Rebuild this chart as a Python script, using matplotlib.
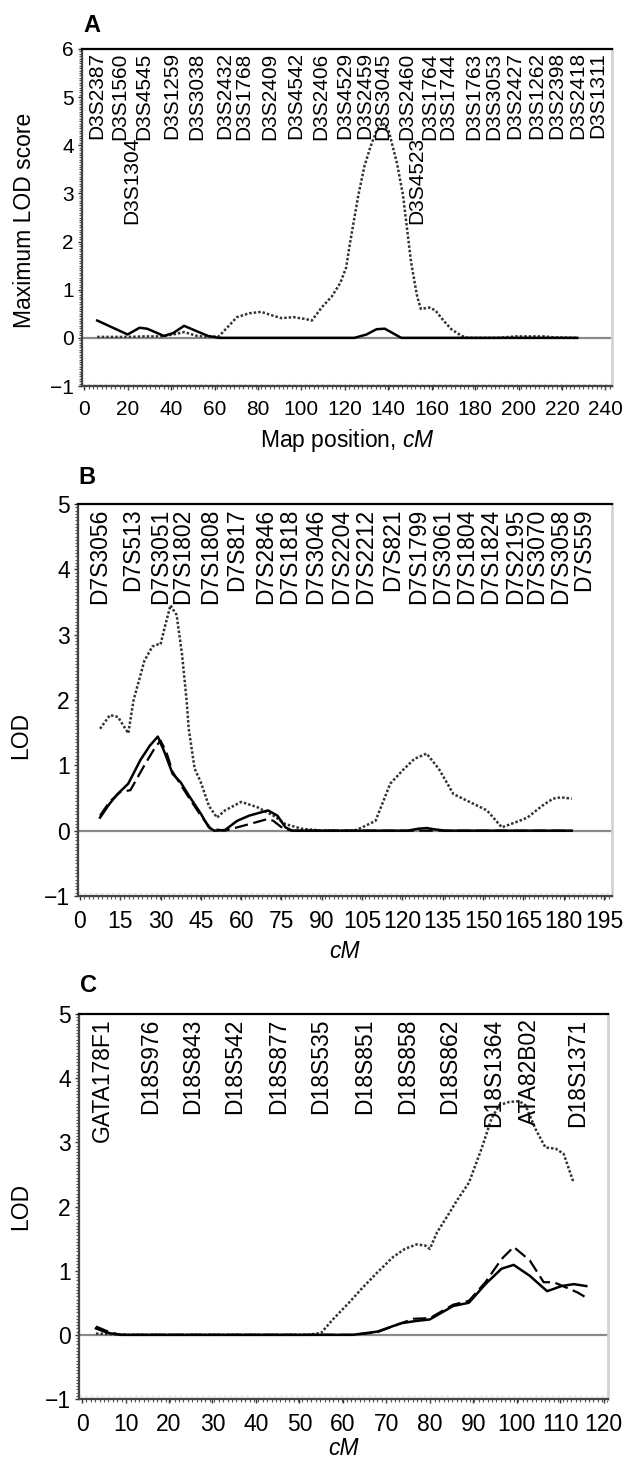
import matplotlib
matplotlib.use("Agg")
import matplotlib.pyplot as plt
from matplotlib.ticker import MultipleLocator

plt.rcParams['font.family'] = ['Liberation Sans', 'DejaVu Sans']
plt.rcParams['mathtext.fontset'] = 'custom'
plt.rcParams['mathtext.rm'] = 'Liberation Sans'
plt.rcParams['mathtext.it'] = 'Liberation Sans:italic'

# ---------------- Panel A data ----------------
a_markers = ["D3S2387", "D3S1560", "D3S4545", "D3S1259", "D3S3038", "D3S2432", "D3S1768",
             "D3S2409", "D3S4542", "D3S2406", "D3S4529", "D3S2459", "D3S3045", "D3S2460",
             "D3S1764", "D3S1744", "D3S1763", "D3S3053", "D3S2427", "D3S1262", "D3S2398",
             "D3S2418", "D3S1311"]
a_marker_pos = [6.0, 16.2, 27.4, 40.5, 51.7, 64.7, 73.5, 85.6, 97.3, 108.9, 120.1, 129.0,
                137.4, 148.6, 158.9, 167.3, 179.4, 188.7, 198.4, 208.3, 217.6, 227.3, 236.3]
a_markers_low = ["D3S1304", "D3S4523"]
a_marker_low_pos = [21.8, 153.3]

a_dot_x = [6, 12, 20, 28, 36, 42, 46, 52, 57, 62, 66.6, 70.3, 76, 81.5, 87, 90.8, 96.4, 102,
           104.8, 109.5, 114, 117.9, 120.6, 122.5, 126.2, 129, 131.8, 134.6, 137.4, 140.2,
           144, 146.8, 150.5, 153.3, 155, 158.9, 161.7, 165.4, 169, 173.8, 176.6, 190, 199,
           205, 212, 216, 227]
a_dot_y = [0.02, 0.02, 0.02, 0.03, 0.03, 0.08, 0.12, 0.04, 0.02, 0.03, 0.25, 0.43, 0.51, 0.54,
           0.46, 0.41, 0.43, 0.39, 0.36, 0.64, 0.86, 1.14, 1.46, 2.0, 2.96, 3.56, 3.97, 4.3,
           4.47, 4.3, 3.63, 2.96, 1.57, 0.86, 0.6, 0.63, 0.57, 0.36, 0.18, 0.04, 0.0, 0.0,
           0.03, 0.03, 0.03, 0.01, 0.0]
a_sol_x = [6, 20, 25.5, 29, 36.7, 41, 46, 51.7, 57, 62, 124.4, 130, 134.6, 138.4, 142, 146, 227]
a_sol_y = [0.36, 0.07, 0.21, 0.19, 0.04, 0.1, 0.25, 0.14, 0.04, 0.0, 0.0, 0.07, 0.18, 0.19,
           0.1, 0.0, 0.0]

a_xticks = list(range(0, 241, 20))
a_yticks = [-1, 0, 1, 2, 3, 4, 5, 6]

# ---------------- Panel B data ----------------
b_markers = ["D7S3056", "D7S513", "D7S3051", "D7S1802", "D7S1808", "D7S817", "D7S2846",
             "D7S1818", "D7S3046", "D7S2204", "D7S2212", "D7S821", "D7S1799", "D7S3061",
             "D7S1804", "D7S1824", "D7S2195", "D7S3070", "D7S3058", "D7S559"]
b_marker_pos = [7.5, 19.5, 30.0, 38.2, 48.7, 58.5, 69.0, 78.0, 87.7, 97.5, 106.5, 116.2,
                126.0, 135.0, 144.0, 153.0, 162.0, 170.0, 179.0, 187.5]

b_dot_x = [7.5, 11.2, 14.2, 18, 20, 24, 27, 29, 30, 31.5, 33.7, 36, 38, 39.7, 40.5, 42.7, 45,
           48, 51, 54, 60, 66, 72, 76.5, 82.5, 90, 102, 105, 110, 115.5, 120, 124.5, 129,
           133.5, 139, 145, 151.5, 157, 163.5, 166.5, 172, 176, 179, 183]
b_dot_y = [1.56, 1.77, 1.74, 1.49, 2.0, 2.6, 2.82, 2.85, 2.85, 3.1, 3.45, 3.3, 2.7, 2.0, 1.56,
           0.95, 0.74, 0.38, 0.2, 0.31, 0.44, 0.36, 0.23, 0.1, 0.03, 0.0, 0.0, 0.05, 0.15,
           0.72, 0.92, 1.1, 1.18, 0.95, 0.56, 0.44, 0.31, 0.05, 0.15, 0.2, 0.38, 0.49, 0.51,
           0.49]
b_sol_x = [7.5, 11, 14, 18, 22.5, 26, 29, 31.5, 34.5, 37.5, 40.5, 45, 48, 50, 54, 58.5, 63,
           70, 73.5, 76.5, 79, 122, 126, 129, 132, 136, 183]
b_sol_y = [0.2, 0.41, 0.56, 0.72, 1.08, 1.3, 1.44, 1.2, 0.87, 0.74, 0.54, 0.26, 0.05, 0.0,
           0.01, 0.15, 0.23, 0.31, 0.23, 0.05, 0.0, 0.0, 0.03, 0.04, 0.02, 0.0, 0.0]
b_dash_x = [7.5, 11, 15, 18.8, 24, 27.8, 30, 32.2, 34.5, 40.5, 45, 48.7, 54, 58.5, 63, 70,
            72, 75.7, 79, 183]
b_dash_y = [0.23, 0.44, 0.59, 0.62, 1.0, 1.26, 1.38, 1.2, 0.9, 0.51, 0.23, 0.03, 0.0, 0.05,
            0.1, 0.18, 0.15, 0.03, 0.0, 0.0]

b_xticks = list(range(0, 196, 15))
b_yticks = [-1, 0, 1, 2, 3, 4, 5]

# ---------------- Panel C data ----------------
c_markers = ["GATA178F1", "D18S976", "D18S843", "D18S542", "D18S877", "D18S535", "D18S851",
             "D18S858", "D18S862", "D18S1364", "ATA82B02", "D18S1371"]
c_marker_pos = [4.6, 15.7, 25.4, 35.1, 45.2, 54.9, 65.1, 74.8, 84.5, 94.6, 103.0, 114.0]

c_dot_x = [3.2, 10, 30, 52, 55, 57.7, 61.4, 64.2, 67.9, 71.5, 74.3, 77, 79, 80, 81.7, 84.5,
           86.3, 89, 91.9, 94.2, 96, 98.3, 100.6, 102, 104.3, 106.6, 109, 110.8, 113.1]
c_dot_y = [0.02, 0.0, 0.0, 0.0, 0.03, 0.24, 0.5, 0.71, 0.97, 1.21, 1.34, 1.41, 1.39, 1.34,
           1.6, 1.9, 2.1, 2.37, 2.9, 3.37, 3.58, 3.63, 3.64, 3.58, 3.21, 2.92, 2.9, 2.82, 2.37]
c_sol_x = [3.2, 6, 8.8, 62.3, 67.9, 73.4, 76.2, 80, 85.4, 89, 92.8, 96.5, 99.3, 103, 107,
           110.3, 113.1, 116]
c_sol_y = [0.1, 0.03, 0.0, 0.0, 0.05, 0.18, 0.21, 0.24, 0.45, 0.5, 0.79, 1.03, 1.09, 0.92,
           0.68, 0.76, 0.79, 0.76]
c_dash_x = [3.2, 6, 8.8, 62.3, 67.9, 73.4, 76.2, 80, 85.4, 89, 92.8, 96.5, 99.3, 103, 106.2,
            108.5, 111.3, 114, 116]
c_dash_y = [0.13, 0.05, 0.0, 0.0, 0.04, 0.18, 0.25, 0.26, 0.47, 0.53, 0.82, 1.18, 1.37, 1.16,
            0.82, 0.82, 0.74, 0.66, 0.58]

c_xticks = list(range(0, 121, 10))
c_yticks = [-1, 0, 1, 2, 3, 4, 5]

# ---------------- drawing ----------------
W, H = 631, 1461
fig = plt.figure(figsize=(W / 100, H / 100), dpi=100)


def make_axes(left, right, top, bottom):
    return fig.add_axes([left / W, 1 - bottom / H, (right - left) / W, (bottom - top) / H])


DOT = dict(color='#333333', lw=1.8, linestyle=(0, (1, 0.8)))
SOL = dict(color='black', lw=1.8, linestyle='-')
DASH = dict(color='black', lw=1.6, linestyle=(0, (6, 2.5)))


def style(ax, xlim, ylim, xticks, yticks, fs, minor_y):
    ax.set_xlim(*xlim)
    ax.set_ylim(*ylim)
    ax.set_xticks(xticks)
    ax.set_yticks(yticks)
    ax.set_xticklabels([str(t) for t in xticks])
    ax.set_yticklabels([('\u2212' + str(-t)) if t < 0 else str(t) for t in yticks])
    ax.tick_params(axis='both', labelsize=fs, length=3, width=1, color='#333333')
    ax.tick_params(axis='x', pad=7)
    ax.tick_params(axis='y', pad=3)
    ax.yaxis.set_minor_locator(MultipleLocator(minor_y))
    ax.xaxis.set_minor_locator(MultipleLocator((xlim[1] - xlim[0]) / 120))
    ax.tick_params(which='minor', length=2, width=0.8, color='#555555')
    ax.spines['top'].set_color('black')
    ax.spines['top'].set_linewidth(1.6)
    ax.spines['right'].set_color('#d4d4d4')
    ax.spines['right'].set_linewidth(2.0)
    for s in ('left', 'bottom'):
        ax.spines[s].set_color('#444444')
        ax.spines[s].set_linewidth(1.6)
        ax.spines[s].set_linestyle((0, (1.2, 0.6)))
    ax.axhline(0, color='#8a8a8a', lw=1.6, zorder=1)
    ax.axhline(ylim[0] + 0.05, color='#e2e2e2', lw=1.0, linestyle=(0, (2, 2)), zorder=0)


LABEL_FS = 16.5

# Panel A
axA = make_axes(82, 612, 49, 386)
style(axA, (-1, 243), (-1, 6), a_xticks, a_yticks, 15, 0.05)
axA.plot(a_dot_x, a_dot_y, **DOT, zorder=3)
axA.plot(a_sol_x, a_sol_y, **SOL, zorder=4)
for name, pos in zip(a_markers, a_marker_pos):
    axA.text(pos, 5.93, name, rotation=90, ha='center', va='top', fontsize=15)
for name, pos in zip(a_markers_low, a_marker_low_pos):
    axA.text(pos, 4.17, name, rotation=90, ha='center', va='top', fontsize=15)
axA.set_xlabel("Map position, $\\mathit{cM}$", fontsize=LABEL_FS, labelpad=6)
axA.set_ylabel("Maximum LOD score", fontsize=LABEL_FS)
axA.yaxis.set_label_coords((36 - 82) / 530, 0.49)
fig.text(83 / W, 1 - 25 / H, "A", fontsize=17, fontweight='bold', ha='left', va='center')

# Panel B
axB = make_axes(78, 612, 504, 896)
style(axB, (-0.7, 198), (-1, 5), b_xticks, b_yticks, 16.5, 0.05)
axB.plot(b_dot_x, b_dot_y, **DOT, zorder=3)
axB.plot(b_dash_x, b_dash_y, **DASH, zorder=4)
axB.plot(b_sol_x, b_sol_y, **SOL, zorder=5)
for name, pos in zip(b_markers, b_marker_pos):
    axB.text(pos, 4.93, name, rotation=90, ha='center', va='top', fontsize=16.5)
axB.set_xlabel("cM", fontsize=LABEL_FS, fontstyle='italic', labelpad=5)
axB.set_ylabel("LOD", fontsize=LABEL_FS)
axB.yaxis.set_label_coords((32 - 78) / 534, 0.41)
fig.text(78 / W, 1 - 477 / H, "B", fontsize=17, fontweight='bold', ha='left', va='center')

# Panel C
axC = make_axes(79, 608, 1014, 1399)
style(axC, (-0.7, 121), (-1, 5), c_xticks, c_yticks, 16.5, 0.05)
axC.plot(c_dot_x, c_dot_y, **DOT, zorder=3)
axC.plot(c_dash_x, c_dash_y, **DASH, zorder=4)
axC.plot(c_sol_x, c_sol_y, **SOL, zorder=5)
for name, pos in zip(c_markers, c_marker_pos):
    axC.text(pos, 4.93, name, rotation=90, ha='center', va='top', fontsize=16.5)
axC.set_xlabel("cM", fontsize=LABEL_FS, fontstyle='italic', labelpad=1)
axC.set_ylabel("LOD", fontsize=LABEL_FS)
axC.yaxis.set_label_coords((32 - 79) / 529, 0.5)
fig.text(80 / W, 1 - 985 / H, "C", fontsize=17, fontweight='bold', ha='left', va='center')

fig.savefig("out.png", dpi=100)
